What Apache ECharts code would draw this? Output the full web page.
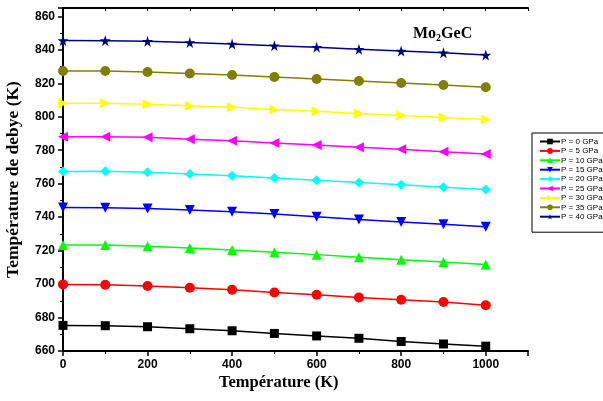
<!DOCTYPE html>
<html><head><meta charset="utf-8">
<script src="https://cdn.jsdelivr.net/npm/echarts@6/dist/echarts.min.js"></script>
<style>html,body{margin:0;padding:0;background:#fff}#c{width:603px;height:401px}</style>
</head><body><div id="c"></div>
<script>
const temps = [0,100,200,300,400,500,600,700,800,900,1000];
const seriesNames = ['P = 0 GPa','P = 5 GPa','P = 10 GPa','P = 15 GPa','P = 20 GPa','P = 25 GPa','P = 30 GPa','P = 35 GPa','P = 40 GPa'];
const p0  = [675.3,675.1,674.5,673.3,672.1,670.5,669.0,667.6,665.7,664.2,662.9];
const p5  = [699.8,699.6,698.8,697.8,696.6,695.0,693.6,692.0,690.6,689.3,687.3];
const p10 = [723.3,723.3,722.6,721.6,720.3,719.0,717.6,716.1,714.5,713.2,711.7];
const p15 = [745.8,745.6,745.2,744.3,743.2,741.9,740.2,738.6,737.1,735.7,734.3];
const p20 = [767.3,767.4,766.8,765.8,764.8,763.4,762.1,760.7,759.3,757.9,756.5];
const p25 = [788.1,788.1,787.7,786.6,785.6,784.3,783.1,781.8,780.6,779.1,777.7];
const p30 = [808.1,808.1,807.5,806.6,805.7,804.4,803.3,802.0,800.8,799.5,798.3];
const p35 = [827.3,827.3,826.7,825.9,825.0,823.8,822.6,821.4,820.2,819.0,817.6];
const p40 = [845.6,845.5,845.1,844.4,843.5,842.5,841.6,840.3,839.3,838.3,836.9];
const allValues = [p0,p5,p10,p15,p20,p25,p30,p35,p40];
const colors = ['#000000','#ff0000','#00ff00','#0000ff','#00ffff','#ff00ff','#ffff00','#808000','#000080'];
const star = 'path://M50,0 L61,35 L98,35 L68,57 L79,91 L50,70 L21,91 L32,57 L2,35 L39,35 Z';
const symbols = ['rect','circle','triangle','triangle','diamond','triangle','triangle','circle',star];
const rotations = [0,0,0,180,0,90,-90,0,0];
const sizes = [9,10,10,10,10,10,10,10,11];

const serif = 'Liberation Serif';
const sans = 'Liberation Sans';

const chart = echarts.init(document.getElementById('c'));
chart.setOption({
  animation:false,
  title:{
    text:'{a|Mo}{s|2}{a|GeC}',
    left:408, top:19,
    textStyle:{rich:{
      a:{fontFamily:serif,fontWeight:'bold',fontSize:16,color:'#000'},
      s:{fontFamily:serif,fontWeight:'bold',fontSize:10,color:'#000',verticalAlign:'bottom',padding:[9,0,0,0]}
    }}
  },
  legend:{
    orient:'vertical', left:532, top:133,
    padding:[4,4,11,7],
    borderColor:'#000', borderWidth:1,
    itemWidth:20, itemHeight:7, itemGap:0.4,
    textStyle:{fontFamily:sans,fontSize:8,color:'#000',lineHeight:9,padding:[0,0,0,-4]},
    data:seriesNames
  },
  grid:{left:63,right:75,top:8,bottom:50,containLabel:false,outerBoundsMode:'none'},
  xAxis:[{
    type:'value', min:0, max:1100, interval:200, position:'bottom',
    axisLine:{lineStyle:{color:'#000',width:2}},
    axisTick:{show:true,length:5,lineStyle:{width:1.5,color:'#000'}},
    minorTick:{show:true,splitNumber:2,length:3,lineStyle:{color:'#000',width:1}},
    axisLabel:{fontFamily:sans,fontWeight:'bold',fontSize:12,color:'#000',margin:8,
      formatter:v=> v>1000?'':String(v)},
    splitLine:{show:false}
  },{
    type:'value', min:0, max:1100, interval:100, position:'top',
    axisLine:{show:true,lineStyle:{color:'#000',width:2}},
    axisTick:{show:true,inside:true,length:3,lineStyle:{color:'#000',width:1}},
    axisLabel:{show:false}, splitLine:{show:false}
  }],
  yAxis:[{
    type:'value', min:660, max:865, interval:20, position:'left',
    name:'Température de debye (K)', nameLocation:'middle', nameGap:41,
    nameTextStyle:{fontFamily:serif,fontWeight:'bold',fontSize:17.5,color:'#000'},
    axisLine:{show:true,lineStyle:{color:'#000',width:2}},
    axisTick:{show:true,length:5,lineStyle:{width:1.5,color:'#000'}},
    minorTick:{show:true,splitNumber:2,length:3,lineStyle:{color:'#000',width:1}},
    axisLabel:{fontFamily:sans,fontWeight:'bold',fontSize:12,color:'#000',margin:8,
      formatter:v=> v>860?'':String(v)},
    splitLine:{show:false}
  },{
    type:'value', min:660, max:865, position:'right',
    axisLine:{show:true,lineStyle:{color:'#000',width:2}},
    axisTick:{show:false}, axisLabel:{show:false}, splitLine:{show:false}
  }],
  graphic:[{
    type:'text', left:219, top:374,
    style:{text:'Température (K)',fontFamily:serif,fontWeight:'bold',fontSize:16.5,fill:'#000'}
  }],
  series: allValues.map((vals,i)=>({
    name:seriesNames[i], type:'line',
    data: temps.map((t,j)=>[t,vals[j]]),
    symbol:symbols[i], symbolRotate:rotations[i], symbolSize:sizes[i],
    showAllSymbol:true,
    lineStyle:{color:colors[i],width:1.5},
    itemStyle:{color:colors[i]},
    clip:false
  }))
});
</script></body></html>
